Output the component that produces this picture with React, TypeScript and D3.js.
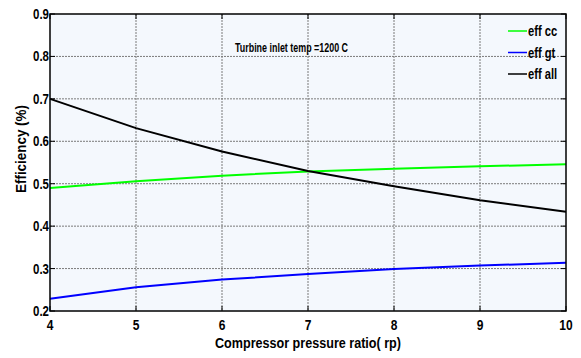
import React from "react";
import * as d3 from "d3";

const rp = [4, 5, 6, 7, 8, 9, 10];
const effCC = [0.49, 0.506, 0.519, 0.529, 0.535, 0.541, 0.546];
const effGT = [0.229, 0.256, 0.274, 0.287, 0.299, 0.307, 0.314];
const effAll = [0.7, 0.631, 0.576, 0.53, 0.494, 0.461, 0.434];
const xTicks = [4, 5, 6, 7, 8, 9, 10];
const yTicks = [0.2, 0.3, 0.4, 0.5, 0.6, 0.7, 0.8, 0.9];
const seriesNames = ["eff cc", "eff gt", "eff all"];
const seriesColors = ["#00ff00", "#0000ff", "#000000"];
const titleText = "Turbine inlet temp =1200 C";
const xLabel = "Compressor pressure ratio( rp)";
const yLabel = "Efficiency (%)";

const W = 581, H = 358;
const L = 50, R = 566, T = 14, B = 311;
const sans = "'Liberation Sans', Arial, sans-serif";

function NText(props: { x: number; y: number; size: number; sx: number; anchor?: string; children: React.ReactNode }) {
  return (
    <text
      transform={`translate(${props.x},${props.y}) scale(${props.sx},1)`}
      textAnchor={props.anchor || "start"}
      fontFamily={sans}
      fontWeight="bold"
      fontSize={props.size}
      fill="#000"
    >
      {props.children}
    </text>
  );
}

export default function App() {
  const x = d3.scaleLinear().domain([4, 10]).range([L, R]);
  const y = d3.scaleLinear().domain([0.2, 0.9]).range([B, T]);
  const series = [effCC, effGT, effAll];
  const line = d3.line<[number, number]>().x(d => x(d[0])).y(d => y(d[1]));
  return (
    <svg width={W} height={H} style={{ position: "absolute", left: 0, top: 0, background: "#fff" }}>
      <rect x={L} y={T} width={R - L} height={B - T} fill="#f4f8fd" />
      {xTicks.slice(1, -1).map(t => (
        <line key={"gx" + t} x1={x(t)} x2={x(t)} y1={T} y2={B} stroke="#7a7a7a" strokeWidth={1} strokeDasharray="2,1" />
      ))}
      {yTicks.slice(1, -1).map(t => (
        <line key={"gy" + t} x1={L} x2={R} y1={y(t)} y2={y(t)} stroke="#7a7a7a" strokeWidth={1} strokeDasharray="2,1" />
      ))}
      {xTicks.map(t => (
        <g key={"tx" + t}>
          <line x1={x(t)} x2={x(t)} y1={B} y2={B - 5} stroke="#000" strokeWidth={1} />
          <line x1={x(t)} x2={x(t)} y1={T} y2={T + 5} stroke="#000" strokeWidth={1} />
        </g>
      ))}
      {yTicks.map(t => (
        <g key={"ty" + t}>
          <line x1={L} x2={L + 5} y1={y(t)} y2={y(t)} stroke="#000" strokeWidth={1} />
          <line x1={R} x2={R - 5} y1={y(t)} y2={y(t)} stroke="#000" strokeWidth={1} />
        </g>
      ))}
      {series.map((s, i) => (
        <path key={"s" + i} d={line(rp.map((r, j) => [r, s[j]] as [number, number])) || ""} fill="none" stroke={seriesColors[i]} strokeWidth={2} />
      ))}
      <rect x={L} y={T} width={R - L} height={B - T} fill="none" stroke="#000" strokeWidth={1.5} />
      {xTicks.map(t => (
        <NText key={"lx" + t} x={x(t)} y={330} size={15} sx={0.8} anchor="middle">{t}</NText>
      ))}
      {yTicks.map(t => (
        <NText key={"ly" + t} x={L - 1} y={y(t) + 5} size={14} sx={0.82} anchor="end">{t.toFixed(1)}</NText>
      ))}
      <text x={(L + R) / 2 + 0} y={348} textAnchor="middle" textLength={186} lengthAdjust="spacingAndGlyphs" fontFamily={sans} fontWeight="bold" fontSize={15} fill="#000">{xLabel}</text>
      <text transform={`translate(26,${149}) rotate(-90)`} textAnchor="middle" textLength={88} lengthAdjust="spacingAndGlyphs" fontFamily={sans} fontWeight="bold" fontSize={14} fill="#000">{yLabel}</text>
      <text x={235} y={52} textLength={113} lengthAdjust="spacingAndGlyphs" fontFamily={sans} fontWeight="bold" fontSize={12} fill="#000">{titleText}</text>
      {seriesNames.map((n, i) => (
        <g key={"lg" + i}>
          <line x1={508} x2={527} y1={31 + i * 21.5} y2={31 + i * 21.5} stroke={seriesColors[i]} strokeWidth={1.5} />
          <NText x={528} y={36 + i * 21.5} size={14} sx={0.8}>{n}</NText>
        </g>
      ))}
    </svg>
  );
}
